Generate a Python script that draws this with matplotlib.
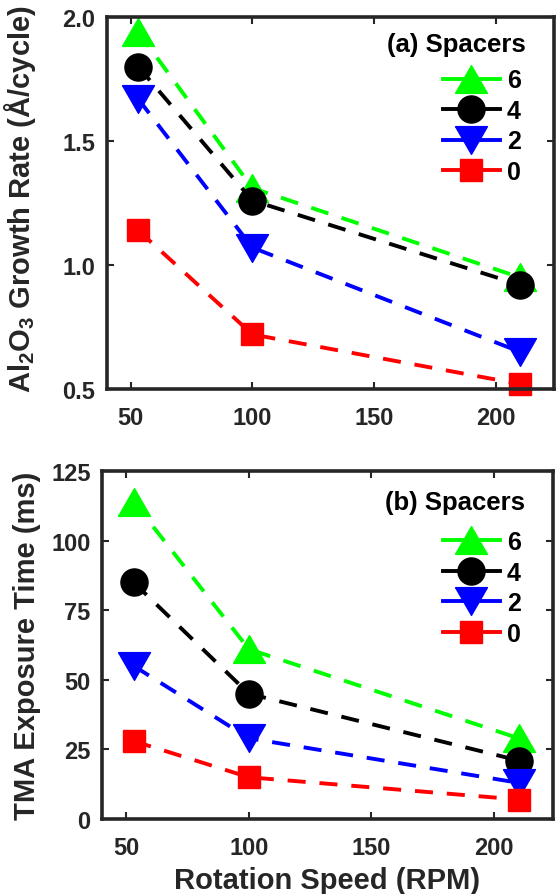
import matplotlib
matplotlib.use("Agg")
import matplotlib.pyplot as plt
from matplotlib.lines import Line2D

plt.rcParams['font.family'] = ['Liberation Sans', 'DejaVu Sans']
plt.rcParams['font.weight'] = 'bold'
plt.rcParams['mathtext.default'] = 'regular'
plt.rcParams['lines.scale_dashes'] = False

# ---------------- data ----------------
rpm = [53, 100, 210]
spacer_labels = ['6', '4', '2', '0']

growth_6 = [1.94, 1.31, 0.95]
growth_4 = [1.80, 1.26, 0.92]
growth_2 = [1.67, 1.07, 0.65]
growth_0 = [1.14, 0.72, 0.52]

exposure_6 = [114, 61, 29]
exposure_4 = [85, 45, 21]
exposure_2 = [55, 29, 13]
exposure_0 = [28, 15, 7]

x_ticks = [50, 100, 150, 200]
growth_ticks = [0.5, 1.0, 1.5, 2.0]
exposure_ticks = [0, 25, 50, 75, 100, 125]

# ---------------- style ----------------
colors = ['#00FF00', '#000000', '#0000FF', '#FF0000']
tri_up = [(-1.15, -1.0), (1.15, -1.0), (0.0, 1.0), (-1.15, -1.0)]
tri_dn = [(-1.15, 1.0), (1.15, 1.0), (0.0, -1.0), (-1.15, 1.0)]
markers = [tri_up, 'o', tri_dn, 's']
msizes = [23, 19.5, 23, 16]
axis_col = '#262626'
LW = 2.8
DASH = (13, 10)

W, H = 556, 895
fig = plt.figure(figsize=(W / 100, H / 100), dpi=100)
ax1 = fig.add_axes([106.5 / W, 1 - 390 / H, (554 - 106.5) / W, (390 - 18) / H])
ax2 = fig.add_axes([101.7 / W, 1 - 820 / H, (553 - 101.7) / W, (820 - 472) / H])


def style_axes(ax, yticks, ylim, yfmt):
    ax.set_xlim(40, 224)
    ax.set_ylim(*ylim)
    ax.set_xticks(x_ticks)
    ax.set_yticks(yticks)
    ax.set_yticklabels([yfmt.format(v) for v in yticks])
    ax.tick_params(direction='in', length=5, width=1.5, top=True, right=True,
                   labelsize=17, colors=axis_col, pad=8)
    ax.tick_params(axis='x', pad=12)
    for s in ax.spines.values():
        s.set_linewidth(2.6)
        s.set_color(axis_col)


def draw(ax, series, title, tpos, lpos):
    for y, c, m, ms in zip(series, colors, markers, msizes):
        ax.plot(rpm, y, color=c, marker=m, markersize=ms, markerfacecolor=c,
                markeredgecolor=c, markeredgewidth=1, linestyle='--',
                dashes=DASH, linewidth=LW, clip_on=False)
    handles = [Line2D([], [], color=c, marker=m, markersize=ms, markerfacecolor=c,
                      markeredgecolor=c, linestyle='-', linewidth=LW)
               for c, m, ms in zip(colors, markers, msizes)]
    ax.legend(handles, spacer_labels, loc='upper right', bbox_to_anchor=lpos,
              frameon=False, borderpad=0, borderaxespad=0, numpoints=1,
              handlelength=2.25, handletextpad=0.3, labelspacing=0.26,
              prop={'size': 18, 'weight': 'bold'})
    ax.text(tpos[0], tpos[1], title, transform=ax.transAxes, ha='right',
            va='center', fontsize=18.5, fontweight='bold', color='#000000')


style_axes(ax1, growth_ticks, (0.5, 2.0), '{:.1f}')
style_axes(ax2, exposure_ticks, (0, 125), '{:d}')

draw(ax1, [growth_6, growth_4, growth_2, growth_0], '(a) Spacers',
     (0.937, 0.927), (0.926, 0.862))
draw(ax2, [exposure_6, exposure_4, exposure_2, exposure_0], '(b) Spacers',
     (0.938, 0.911), (0.929, 0.830))

ax1.set_ylabel('Al$_2$O$_3$ Growth Rate (Å/cycle)', fontsize=21,
               fontweight='bold', color=axis_col)
ax1.yaxis.set_label_coords(-0.153, 0.513)
ax2.set_ylabel('TMA Exposure Time (ms)', fontsize=21, fontweight='bold',
               color=axis_col)
ax2.yaxis.set_label_coords(-0.134, 0.5)
ax2.set_xlabel('Rotation Speed (RPM)', fontsize=21, fontweight='bold',
               color=axis_col, labelpad=5)

fig.savefig('out.png', dpi=100)
